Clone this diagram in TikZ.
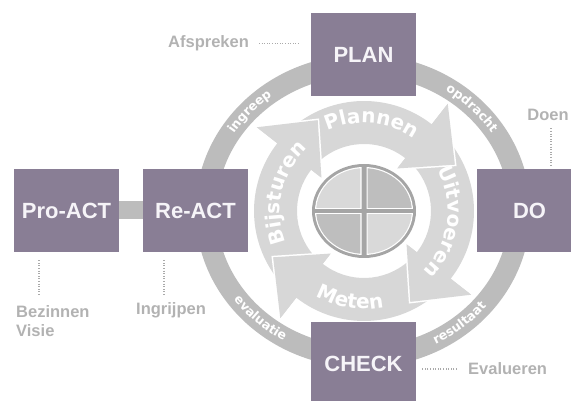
\documentclass[tikz,border=0pt]{standalone}
\usepackage{fontspec}
\setmainfont{Liberation Sans}
\newfontfamily\dv{DejaVu Sans}
\usetikzlibrary{decorations.text}
\definecolor{boxc}{RGB}{137,126,149}
\definecolor{ringc}{RGB}{188,188,188}
\definecolor{arrc}{RGB}{215,215,215}
\definecolor{annc}{RGB}{178,178,178}
\definecolor{dotc}{RGB}{170,170,170}
\definecolor{piec}{RGB}{165,165,165}
\definecolor{pielt}{RGB}{217,217,217}
\definecolor{piedk}{RGB}{190,190,190}
\definecolor{boxtxt}{RGB}{246,244,248}
\newcommand\boxfont{\bfseries\fontsize{22pt}{26pt}\selectfont}
\newcommand\annfont{\bfseries\fontsize{16.5pt}{19pt}\selectfont}
\newcommand\arrtxt{\dv\bfseries\fontsize{20pt}{24pt}\selectfont}
\newcommand\ringtxt{\dv\bfseries\fontsize{12.5pt}{15pt}\selectfont}
\begin{document}
\begin{tikzpicture}[x=1pt,y=1pt,
  box/.style={fill=boxc, text=boxtxt, font=\boxfont, minimum width=105pt, minimum height=83pt, inner sep=0pt},
  ann/.style={text=annc, font=\annfont, inner sep=0pt},
  dotline/.style={draw=dotc, line width=1.3pt, dash pattern=on 1pt off 1.6pt},
  ringlabel/.style={decorate, decoration={text along path, text align=center, text color=white, text={|\ringtxt|#1}}},
  arrlabel/.style={decorate, decoration={text along path, text align=center, text color=white, text={|\arrtxt|#1}}}]
\useasboundingbox (0,0) rectangle (571,401);
\clip (0,0) rectangle (571,401);
% outer ring
\begin{scope}[shift={(363,190)}]
  \draw[ringc, line width=21pt] (0,0) ellipse [x radius=157pt, y radius=146pt];
  \path[ringlabel={ingreep}] (160:153.5pt and 142.5pt) arc[start angle=160, end angle=114, x radius=153.5pt, y radius=142.5pt];
  \path[ringlabel={opdracht}] (70:153.5pt and 142.5pt) arc[start angle=70, end angle=20, x radius=153.5pt, y radius=142.5pt];
  \path[ringlabel={resultaat}] (-80:160.5pt and 149.5pt) arc[start angle=-80, end angle=-22, x radius=160.5pt, y radius=149.5pt];
  \path[ringlabel={evaluatie}] (200:160.5pt and 149.5pt) arc[start angle=200, end angle=256, x radius=160.5pt, y radius=149.5pt];
\end{scope}
% cycle arrows
\begin{scope}[shift={(364,190)}]
  \foreach \a/\b in {135/52, 42/-38, -48/-128, 222/142}{
    \fill[arrc] (\a:110pt) arc[start angle=\a, end angle=\b, radius=110pt] -- (\b:136pt) -- ({\b-25}:102pt) -- (\b:54pt) -- (\b:67pt) arc[start angle=\b, end angle=\a, radius=67pt] -- cycle;
  }
  \foreach \b in {52,-38,-128,142}{
    \draw[white, line width=3pt] (\b:136pt) -- ({\b-25}:102pt) -- (\b:54pt);
  }
  \foreach \b in {52,-38,-128,142}{
    \fill[arrc] (\b:136pt) -- ({\b-25}:102pt) -- (\b:54pt) -- cycle;
  }
  \path[arrlabel={Plannen}] (125:88pt) arc[start angle=125, end angle=45, radius=88pt];
  \path[arrlabel={Uitvoeren}] (36:84pt) arc[start angle=36, end angle=-52, radius=84pt];
  \path[arrlabel={Meten}] (-140:98pt) arc[start angle=-140, end angle=-58, radius=98pt];
  \path[arrlabel={Bijsturen}] (215:84pt) arc[start angle=215, end angle=119, radius=84pt];
\end{scope}
% centre disc
\begin{scope}[shift={(364,190)}]
  \fill[piec] (0,0) ellipse [x radius=52pt, y radius=47pt];
  \foreach \sx/\sy/\c in {-1/1/pielt, 1/1/piedk, -1/-1/piedk, 1/-1/pielt}{
    \begin{scope}
      \clip (\sx*2.5, \sy*2.5) rectangle (\sx*60, \sy*60);
      \fill[white] (0,0) ellipse [x radius=49pt, y radius=44pt];
    \end{scope}
    \begin{scope}
      \clip (\sx*3.7, \sy*3.7) rectangle (\sx*60, \sy*60);
      \fill[\c] (0,0) ellipse [x radius=47.8pt, y radius=42.8pt];
    \end{scope}
  }
\end{scope}
% boxes
\node[box] (plan) at (363.5,346.5) {PLAN};
\node[box] (do) at (529.5,190.5) {DO};
\node[box] (check) at (363.5,37.5) {CHECK};
\node[box] (react) at (195.5,190.5) {Re-ACT};
\node[box] (proact) at (66.5,190.5) {Pro-ACT};
\draw[ringc, line width=18pt] (proact.east) -- (react.west);
% annotations
\node[ann, anchor=base west] (afspreken) at (168,353) {Afspreken};
\draw[dotline, shorten <=10pt, shorten >=12pt] (afspreken.east) -- (afspreken.east -| plan.west);
\node[ann, anchor=base] (doen) at (548,280) {Doen};
\draw[dotline, shorten <=7pt, shorten >=4pt] ([xshift=3pt]doen.south) -- ([xshift=3pt]doen.south |- do.north);
\node[ann, anchor=base west] (evalueren) at (468,26) {Evalueren};
\draw[dotline, shorten <=11pt, shorten >=6pt] (evalueren.west) -- (evalueren.west -| check.east);
\node[ann, anchor=north west, align=left] (bezinnen) at (16,96) {Bezinnen\\Visie};
\draw[dotline, shorten <=8pt, shorten >=10pt] ([xshift=-27.5pt]proact.south) -- ([xshift=-27.5pt]proact.south |- bezinnen.north);
\node[ann, anchor=base] (ingrijpen) at (171,86) {Ingrijpen};
\draw[dotline, shorten <=8pt, shorten >=7pt] ([xshift=-31.5pt]react.south) -- ([xshift=-31.5pt]react.south |- ingrijpen.north);
\end{tikzpicture}
\end{document}
